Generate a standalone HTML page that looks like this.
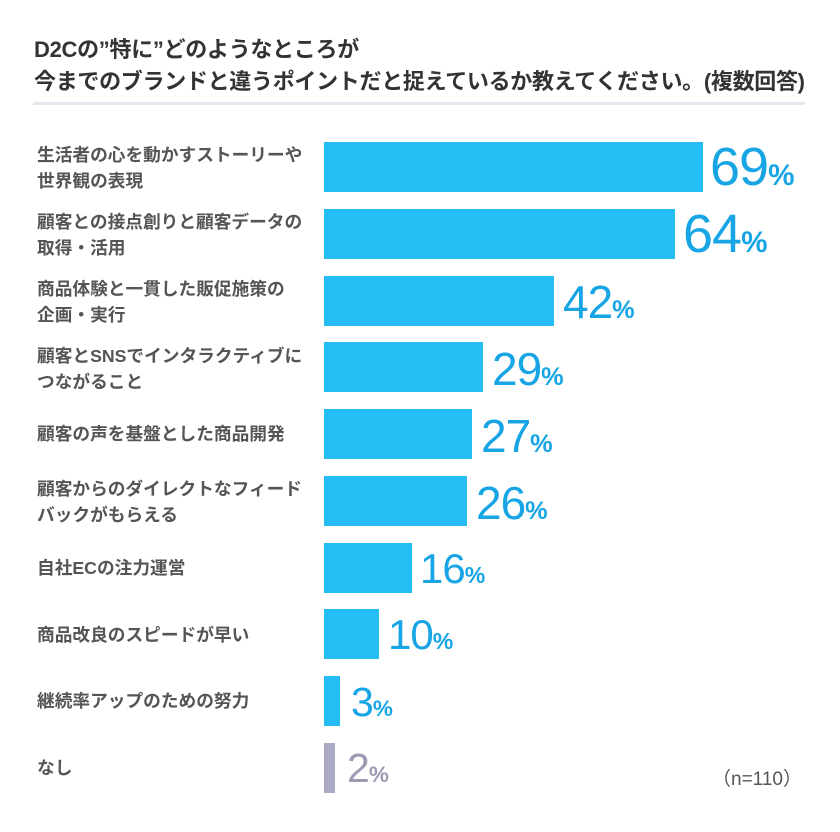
<!DOCTYPE html>
<html><head><meta charset="utf-8"><style>
body{margin:0;width:840px;height:832px;background:#fff;position:relative;overflow:hidden;font-family:"Liberation Sans","Noto Sans CJK JP",sans-serif}
.t{position:absolute;left:34px;font-size:22px;font-weight:bold;color:#333;white-space:nowrap;letter-spacing:-0.3px}
.hr{position:absolute;left:33px;top:102px;width:772px;height:3px;background:#e6e6ee}
.lab{position:absolute;left:37px;font-size:17.7px;font-weight:bold;color:#555;line-height:26px;white-space:nowrap}
.bar{position:absolute;left:324px;height:50px;background:#25bdf3}
.v{position:absolute;color:#17a5e5;white-space:nowrap;line-height:1;letter-spacing:-1px}
.v span{font-size:0.55em;letter-spacing:0;font-weight:bold}
.n{position:absolute;left:712px;top:764px;font-size:19px;color:#555;font-family:"Liberation Sans","Noto Sans CJK JP",sans-serif}
</style></head><body>
<div class="t" style="top:32px">D2Cの”特に”どのようなところが</div>
<div class="t" style="top:64px">今までのブランドと違うポイントだと捉えているか教えてください。(複数回答)</div>
<div class="hr"></div>

<div class="lab" style="top:142px">生活者の心を動かすストーリーや<br>世界観の表現</div>
<div class="bar" style="top:142px;width:379px"></div>
<div class="v" style="left:710px;top:140px;font-size:54px">69<span>%</span></div>

<div class="lab" style="top:209px">顧客との接点創りと顧客データの<br>取得・活用</div>
<div class="bar" style="top:209px;width:351px"></div>
<div class="v" style="left:683px;top:207px;font-size:54px">64<span>%</span></div>

<div class="lab" style="top:276px">商品体験と一貫した販促施策の<br>企画・実行</div>
<div class="bar" style="top:276px;width:230px"></div>
<div class="v" style="left:563px;top:279px;font-size:46px">42<span>%</span></div>

<div class="lab" style="top:343px">顧客とSNSでインタラクティブに<br>つながること</div>
<div class="bar" style="top:342px;width:159px"></div>
<div class="v" style="left:492px;top:346px;font-size:46px">29<span>%</span></div>

<div class="lab" style="top:421px">顧客の声を基盤とした商品開発</div>
<div class="bar" style="top:409px;width:148px"></div>
<div class="v" style="left:481px;top:413px;font-size:46px">27<span>%</span></div>

<div class="lab" style="top:476px">顧客からのダイレクトなフィード<br>バックがもらえる</div>
<div class="bar" style="top:476px;width:143px"></div>
<div class="v" style="left:476px;top:480px;font-size:46px">26<span>%</span></div>

<div class="lab" style="top:555px">自社ECの注力運営</div>
<div class="bar" style="top:543px;width:88px"></div>
<div class="v" style="left:420px;top:548px;font-size:42px">16<span>%</span></div>

<div class="lab" style="top:622px">商品改良のスピードが早い</div>
<div class="bar" style="top:609px;width:55px"></div>
<div class="v" style="left:388px;top:614px;font-size:42px">10<span>%</span></div>

<div class="lab" style="top:688px">継続率アップのための努力</div>
<div class="bar" style="top:676px;width:16px"></div>
<div class="v" style="left:351px;top:682px;font-size:41px">3<span>%</span></div>

<div class="lab" style="top:755px">なし</div>
<div class="bar" style="top:743px;width:11px;background:#aaaac4"></div>
<div class="v" style="left:347px;top:748px;font-size:41px;color:#9a9ab2">2<span>%</span></div>

<div class="n">（n=110）</div>
</body></html>
